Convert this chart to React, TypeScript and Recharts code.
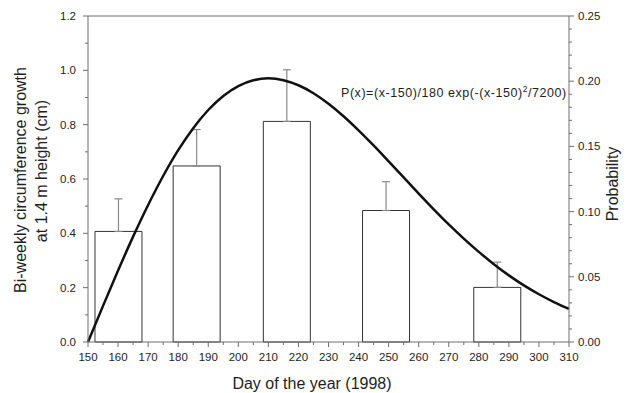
import React from 'react';
import {
  ComposedChart,
  Bar,
  Line,
  XAxis,
  YAxis,
  ErrorBar,
  ReferenceLine,
} from 'recharts';

// bi-weekly growth measurements, centred on the middle day of each interval
const barDays = [160, 186, 216, 249, 286];
const growth = [0.407, 0.648, 0.812, 0.484, 0.201];
const growthErr = [0.12, 0.134, 0.19, 0.106, 0.093];

// P(x) curve sampled every 5 days
const curveDays = [
  150, 155, 160, 165, 170, 175, 180, 185, 190, 195, 200, 205, 210, 215, 220,
  225, 230, 235, 240, 245, 250, 255, 260, 265, 270, 275, 280, 285, 290, 295,
  300, 305, 310,
];
const curveProb = [
  0, 0.0277, 0.0548, 0.0808, 0.1051, 0.1273, 0.1471, 0.164, 0.1779, 0.1887,
  0.1963, 0.2007, 0.2022, 0.2008, 0.1969, 0.1908, 0.1827, 0.1731, 0.1623,
  0.1507, 0.1385, 0.1262, 0.1138, 0.1018, 0.0902, 0.0793, 0.0691, 0.0597,
  0.0511, 0.0434, 0.0366, 0.0306, 0.0254,
];

const dayTicks = [
  150, 155, 160, 165, 170, 175, 180, 185, 190, 195, 200, 205, 210, 215, 220,
  225, 230, 235, 240, 245, 250, 255, 260, 265, 270, 275, 280, 285, 290, 295,
  300, 305, 310,
];
const growthTicks = [0, 0.1, 0.2, 0.3, 0.4, 0.5, 0.6, 0.7, 0.8, 0.9, 1.0, 1.1, 1.2];
const probTicks = [
  0, 0.01, 0.02, 0.03, 0.04, 0.05, 0.06, 0.07, 0.08, 0.09, 0.1, 0.11, 0.12,
  0.13, 0.14, 0.15, 0.16, 0.17, 0.18, 0.19, 0.2, 0.21, 0.22, 0.23, 0.24, 0.25,
];

const barRows = barDays.map((day, i) => ({
  day,
  growth: growth[i],
  err: [0, growthErr[i]],
}));
const curveRows = curveDays.map((day, i) => ({ day, p: curveProb[i] }));

const AXIS = '#6e6e6e';
const TEXT = '#1e1e1e';
const FONT = '"Liberation Sans", Arial, Helvetica, sans-serif';

const DayTick = ({ x, y, payload }: any) => {
  const major = payload.value % 10 === 0;
  return (
    <g>
      <line x1={x} y1={y} x2={x} y2={y + (major ? 5 : 3)} stroke={AXIS} />
      {major && (
        <text x={x} y={y + 18.5} textAnchor="middle" fontSize={11.5} fill={TEXT} fontFamily={FONT}>
          {payload.value}
        </text>
      )}
    </g>
  );
};

const GrowthTick = ({ x, y, payload }: any) => {
  const major = Math.round(payload.value * 10) % 2 === 0;
  return (
    <g>
      <line x1={x - (major ? 5 : 3)} y1={y} x2={x} y2={y} stroke={AXIS} />
      {major && (
        <text x={x - 12} y={y + 4} textAnchor="end" fontSize={11.5} fill={TEXT} fontFamily={FONT}>
          {payload.value.toFixed(1)}
        </text>
      )}
    </g>
  );
};

const ProbTick = ({ x, y, payload }: any) => {
  const major = Math.round(payload.value * 100) % 5 === 0;
  return (
    <g>
      <line x1={x} y1={y} x2={x + (major ? 5 : 3)} y2={y} stroke={AXIS} />
      {major && (
        <text x={x + 9} y={y + 4} textAnchor="start" fontSize={11.5} fill={TEXT} fontFamily={FONT}>
          {payload.value.toFixed(2)}
        </text>
      )}
    </g>
  );
};

const App = () => {
  return (
    <div style={{ position: 'absolute', left: 0, top: 0, width: 629, height: 393, background: '#fff' }}>
      <ComposedChart
        width={629}
        height={393}
        data={barRows}
        margin={{ top: 16, right: 0, bottom: 0, left: 0 }}
      >
        <XAxis
          xAxisId="day"
          dataKey="day"
          type="number"
          domain={[150, 310]}
          ticks={dayTicks}
          interval={0}
          tick={<DayTick />}
          tickLine={false}
          tickSize={0}
          tickMargin={0}
          height={51}
          stroke={AXIS}
        />
        {/* separate hidden axis for the curve so the bar width is not squeezed */}
        <XAxis
          xAxisId="curve"
          dataKey="day"
          type="number"
          domain={[150, 310]}
          height={0}
          hide
        />
        <YAxis
          yAxisId="growth"
          domain={[0, 1.2]}
          ticks={growthTicks}
          interval={0}
          tick={<GrowthTick />}
          tickLine={false}
          tickSize={0}
          tickMargin={0}
          width={88}
          stroke={AXIS}
        />
        <YAxis
          yAxisId="prob"
          orientation="right"
          domain={[0, 0.25]}
          ticks={probTicks}
          interval={0}
          tick={<ProbTick />}
          tickLine={false}
          tickSize={0}
          tickMargin={0}
          width={60}
          stroke={AXIS}
        />
        <ReferenceLine xAxisId="day" yAxisId="growth" y={1.2} stroke={AXIS} />
        <Bar
          xAxisId="day"
          yAxisId="growth"
          dataKey="growth"
          barSize={47}
          fill="#fff"
          stroke="#333"
          strokeWidth={1}
          isAnimationActive={false}
        >
          <ErrorBar dataKey="err" direction="y" width={4} stroke="#8a8a8a" strokeWidth={1.2} />
        </Bar>
        <Line
          xAxisId="curve"
          yAxisId="prob"
          data={curveRows}
          dataKey="p"
          type="monotone"
          dot={false}
          stroke="#111"
          strokeWidth={2.5}
          isAnimationActive={false}
        />
      </ComposedChart>
      <svg
        width={629}
        height={393}
        style={{ position: 'absolute', left: 0, top: 0, pointerEvents: 'none' }}
        fontFamily={FONT}
        fill={TEXT}
      >
        <text transform="translate(20,180) rotate(-90)" textAnchor="middle" dominantBaseline="central" fontSize={16}>
          Bi-weekly circumference growth
        </text>
        <text transform="translate(41,171) rotate(-90)" textAnchor="middle" dominantBaseline="central" fontSize={16}>
          at 1.4 m height (cm)
        </text>
        <text x={312} y={383} textAnchor="middle" dominantBaseline="central" fontSize={16}>
          Day of the year (1998)
        </text>
        <text transform="translate(612,184) rotate(-90)" textAnchor="middle" dominantBaseline="central" fontSize={16}>
          Probability
        </text>
        <text x={341} y={97} fontSize={12.5} letterSpacing={0.55}>
          P(x)=(x-150)/180 exp(-(x-150)
          <tspan dy={-5} fontSize={8.5}>2</tspan>
          <tspan dy={5}>/7200)</tspan>
        </text>
      </svg>
    </div>
  );
};

export default App;
